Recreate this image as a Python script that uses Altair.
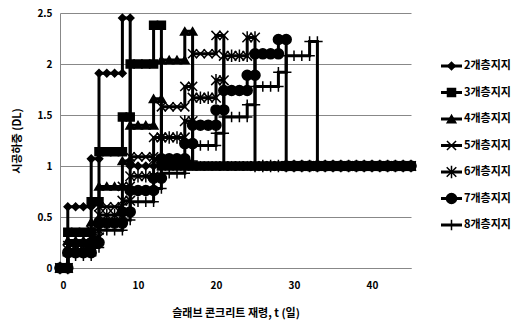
import altair as alt
import pandas as pd

series_names = ["2개층지지", "3개층지지", "4개층지지", "5개층지지", "6개층지지", "7개층지지", "8개층지지"]

# load level held over each 4-day floor cycle (plateau), per series
plateau_levels = {
    "2개층지지": [0.60, 1.91],
    "3개층지지": [0.35, 1.14, 2.00],
    "4개층지지": [0.27, 0.80, 1.40, 2.04],
    "5개층지지": [0.22, 0.60, 1.09, 1.58, 2.10],
    "6개층지지": [0.18, 0.52, 0.90, 1.28, 1.67, 2.08],
    "7개층지지": [0.15, 0.44, 0.76, 1.07, 1.40, 1.74, 2.10],
    "8개층지지": [0.12, 0.37, 0.65, 0.93, 1.20, 1.48, 1.78, 2.08],
}
# load level at shore removal, at the end of each cycle
strip_levels = {
    "2개층지지": [1.07, 2.45],
    "3개층지지": [0.65, 1.48, 2.38],
    "4개층지지": [0.45, 1.05, 1.66, 2.32],
    "5개층지지": [0.37, 0.80, 1.28, 1.78, 2.28],
    "6개층지지": [0.30, 0.66, 1.06, 1.44, 1.84, 2.26],
    "7개층지지": [0.25, 0.55, 0.88, 1.22, 1.55, 1.89, 2.24],
    "8개층지지": [0.20, 0.47, 0.78, 1.05, 1.32, 1.60, 1.92, 2.22],
}
initial_days = [0, 1]
initial_level = 0.0
cycle_length = 4
final_level = 1.0
last_day = 45

x_ticks = [0, 10, 20, 30, 40]
y_ticks = [0, 0.5, 1, 1.5, 2, 2.5]

rows = []
for name in series_names:
    pts = [(d, initial_level) for d in initial_days]
    for j, (lev, strip) in enumerate(zip(plateau_levels[name], strip_levels[name])):
        start = cycle_length * j + 1
        for d in range(start, start + cycle_length):
            pts.append((d, lev))
        pts.append((start + cycle_length - 1, strip))
        pts.append((start + cycle_length, strip))
    end = pts[-1][0]
    for d in range(end, last_day + 1):
        pts.append((d, final_level))
    for i, (d, v) in enumerate(pts):
        rows.append({"series": name, "day": d, "load": v, "seq": i})
df = pd.DataFrame(rows)

shapes = [
    "diamond",
    "square",
    "triangle-up",
    "M-1,-1L1,1M-1,1L1,-1",
    "M-1,-1L1,1M-1,1L1,-1M0,-1.3V1.3",
    "circle",
    "M0,-1V1M-1,0H1",
]
sizes = [55, 110, 85, 70, 80, 100, 80]

FONT = "Noto Sans CJK KR"

shape_enc = alt.Shape("series:N", scale=alt.Scale(domain=series_names, range=shapes), legend=None)
size_enc = alt.Size("series:O", scale=alt.Scale(domain=series_names, range=sizes), legend=None)

x_enc = alt.X("day:Q", scale=alt.Scale(domain=[0, 45], nice=False),
              axis=alt.Axis(values=x_ticks, title="슬래브 콘크리트 재령, t (일)", grid=False,
                            ticks=False, labelPadding=12, titlePadding=17, domainColor="#888"))
y_enc = alt.Y("load:Q", scale=alt.Scale(domain=[0, 2.5], nice=False),
              axis=alt.Axis(values=y_ticks, title="시공하중 (DL)", grid=True, ticks=False,
                            labelPadding=8, titlePadding=14, format="~g",
                            gridColor="#888", domainColor="#888"))

lines = alt.Chart(df).mark_line(color="black", strokeWidth=3).encode(
    x=x_enc, y=y_enc, detail="series:N", order="seq:Q")
points = alt.Chart(df).mark_point(filled=True, color="black", stroke="black",
                                  strokeWidth=1.5, opacity=1).encode(
    x=x_enc, y=y_enc, shape=shape_enc, size=size_enc)
main = alt.layer(lines, points).properties(width=351, height=255)

leg_df = pd.DataFrame({"series": series_names})
leg_y = alt.Y("series:N", scale=alt.Scale(type="point", domain=series_names,
                                          range=[53, 212], padding=0), axis=None)
leg_rule = alt.Chart(leg_df).mark_rule(color="black", strokeWidth=3).encode(
    x=alt.value(11), x2=alt.value(32), y=leg_y)
leg_pt = alt.Chart(leg_df).mark_point(filled=True, color="black", stroke="black",
                                      strokeWidth=1.5, opacity=1).encode(
    x=alt.value(21.5), y=leg_y, shape=shape_enc, size=size_enc)
leg_txt = alt.Chart(leg_df).mark_text(align="left", baseline="middle", font=FONT,
                                      fontSize=11, fontWeight="bold", color="black").encode(
    x=alt.value(34), y=leg_y, text="series:N")
legend = alt.layer(leg_rule, leg_pt, leg_txt).properties(width=88, height=255)

chart = alt.hconcat(main, legend, spacing=10).properties(
    padding={"left": 11, "top": 8, "right": 5, "bottom": 5}
).configure_view(strokeWidth=0).configure_axis(
    labelFont=FONT, labelFontSize=10, labelFontWeight="bold", labelColor="black",
    titleFont=FONT, titleFontSize=11, titleFontWeight="bold", titleColor="black",
)

chart.save("out.html", embed_options={"renderer": "svg", "actions": False})
